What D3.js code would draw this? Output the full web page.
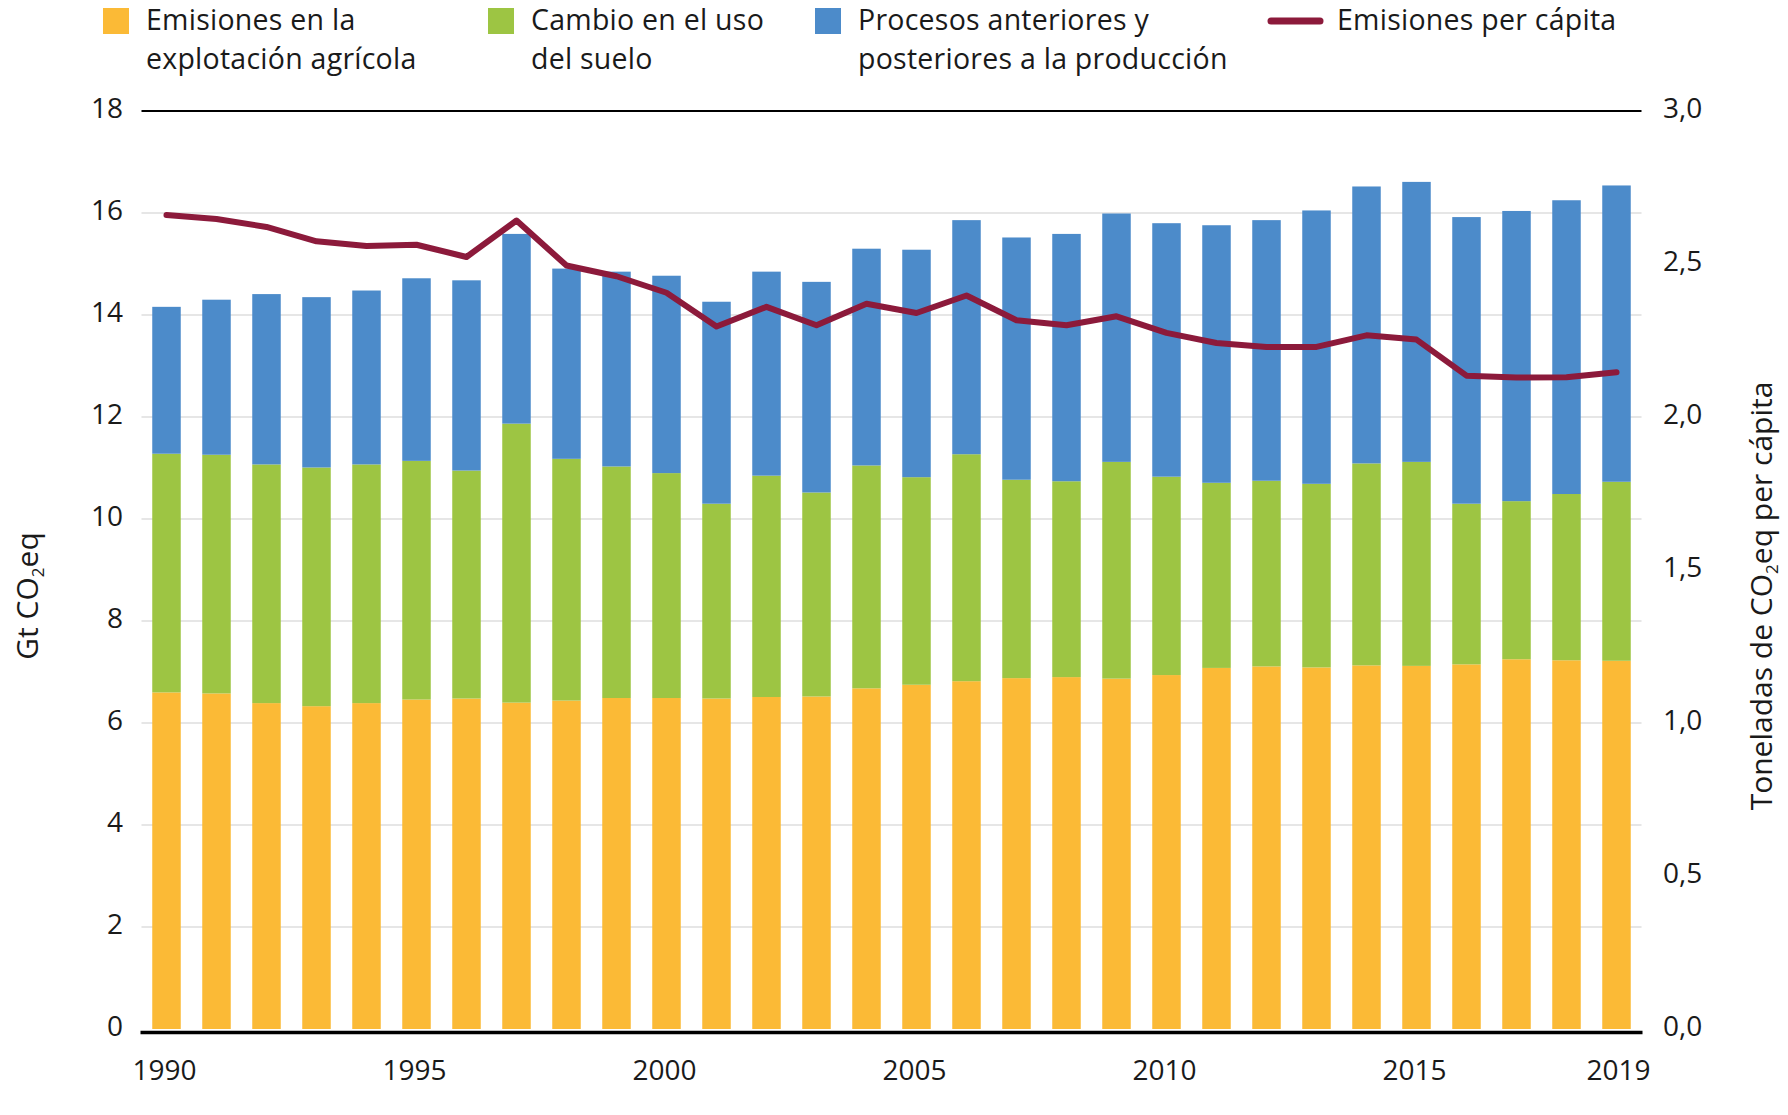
<!DOCTYPE html>
<html><head><meta charset="utf-8">
<script src="https://cdn.jsdelivr.net/npm/d3@7"></script>
<style>
html,body{margin:0;padding:0;background:#fff;}
svg{display:block;}
text{font-family:"Open Sans",sans-serif;fill:#1a1a1a;}
</style></head>
<body>
<svg id="c" width="1788" height="1115"></svg>
<script>
const years = [1990,1991,1992,1993,1994,1995,1996,1997,1998,1999,2000,2001,2002,2003,2004,2005,2006,2007,2008,2009,2010,2011,2012,2013,2014,2015,2016,2017,2018,2019];
const farmGate = [6.60,6.58,6.39,6.33,6.39,6.46,6.48,6.40,6.44,6.49,6.49,6.48,6.51,6.52,6.68,6.75,6.82,6.88,6.90,6.87,6.94,7.08,7.11,7.09,7.13,7.12,7.15,7.25,7.23,7.22];
const landUse = [4.68,4.68,4.68,4.68,4.68,4.68,4.47,5.47,4.74,4.54,4.41,3.82,4.34,4.00,4.37,4.07,4.45,3.89,3.84,4.25,3.89,3.63,3.64,3.60,3.96,4.00,3.15,3.10,3.26,3.51];
const supplyChain = [2.88,3.04,3.34,3.34,3.41,3.58,3.73,3.72,3.73,3.82,3.87,3.96,4.00,4.13,4.25,4.46,4.59,4.75,4.85,4.87,4.97,5.05,5.11,5.36,5.43,5.49,5.62,5.69,5.76,5.81];
const perCapita = [2.66,2.647,2.621,2.574,2.559,2.563,2.523,2.642,2.495,2.46,2.406,2.296,2.36,2.30,2.37,2.34,2.397,2.316,2.30,2.329,2.275,2.242,2.229,2.229,2.267,2.253,2.135,2.129,2.13,2.146];
const leftTicks = [0,2,4,6,8,10,12,14,16,18];
const rightTicks = [0,0.5,1.0,1.5,2.0,2.5,3.0];
const xTickYears = [1990,1995,2000,2005,2010,2015,2019];
const seriesNames = [["Emisiones en la","explotación agrícola"],["Cambio en el uso","del suelo"],["Procesos anteriores y","posteriores a la producción"]];
const lineName = "Emisiones per cápita";
const colors = ["#FBBA36","#9DC543","#4C8BCA"];
const lineColor = "#8C1A3B";

const svg = d3.select("#c");
const L = 141.5, R = 1641.5, T = 111, B = 1029;

const x = d3.scaleBand().domain(years).range([L,R]).paddingInner(0.43).paddingOuter(0.215);
const y = d3.scaleLinear().domain([0,18]).range([B,T]);
const y2 = d3.scaleLinear().domain([0,3]).range([B,T]);

// gridlines
svg.append("g").selectAll("line").data(leftTicks.filter(d=>d>0 && d<18)).join("line")
  .attr("x1",L).attr("x2",R).attr("y1",d=>y(d)).attr("y2",d=>y(d))
  .attr("stroke","#e6e6e6").attr("stroke-width",2);

// stacked bars
const rows = years.map((yr,i)=>({year:yr,a:farmGate[i],b:landUse[i],c:supplyChain[i]}));
const stack = d3.stack().keys(["a","b","c"])(rows);
svg.append("g").selectAll("g").data(stack).join("g").attr("fill",(d,i)=>colors[i])
  .selectAll("rect").data(d=>d).join("rect")
  .attr("x",d=>x(d.data.year)).attr("width",x.bandwidth())
  .attr("y",d=>y(d[1])).attr("height",d=>y(d[0])-y(d[1]));

// top line at 18
svg.append("line").attr("x1",L).attr("x2",R).attr("y1",y(18)).attr("y2",y(18))
  .attr("stroke","#000").attr("stroke-width",2);
// bottom axis
svg.append("line").attr("x1",L-1).attr("x2",R+1).attr("y1",B+3.5).attr("y2",B+3.5)
  .attr("stroke","#000").attr("stroke-width",3.5);

// per capita line
const line = d3.line().x((d,i)=>x(years[i])+x.bandwidth()/2).y(d=>y2(d));
svg.append("path").datum(perCapita).attr("d",line).attr("fill","none")
  .attr("stroke",lineColor).attr("stroke-width",6).attr("stroke-linejoin","round").attr("stroke-linecap","round");

// left ticks
const fs = 28;
svg.append("g").selectAll("text").data(leftTicks).join("text")
  .attr("x",123).attr("y",d=>y(d)-3).attr("dy","0.36em").attr("text-anchor","end")
  .style("font-size",fs+"px").text(d=>d);
// right ticks
svg.append("g").selectAll("text").data(rightTicks).join("text")
  .attr("x",1663).attr("y",d=>y2(d)-3).attr("dy","0.36em").attr("text-anchor","start")
  .style("font-size",fs+"px").text(d=>d.toFixed(1).replace(".",","));
// x ticks
svg.append("g").selectAll("text").data(xTickYears).join("text")
  .attr("x",d=>x(d)+x.bandwidth()/2+(d===2019?2:-2)).attr("y",1080).attr("text-anchor","middle")
  .style("font-size",fs+"px").text(d=>d);

// axis titles
const lt = svg.append("text").attr("transform","translate(38,596) rotate(-90)")
  .attr("text-anchor","middle").style("font-size","30px");
lt.append("tspan").text("Gt CO");
lt.append("tspan").attr("dy",6).style("font-size","17px").text("2");
lt.append("tspan").attr("dy",-6).text("eq");

const rt = svg.append("text").attr("transform","translate(1772,596) rotate(-90)")
  .attr("text-anchor","middle").style("font-size","30px");
rt.append("tspan").text("Toneladas de CO");
rt.append("tspan").attr("dy",6).style("font-size","17px").text("2");
rt.append("tspan").attr("dy",-6).text("eq per cápita");

// legend
const legX = [103, 488, 815];
const legFs = 28.5;
seriesNames.forEach((nm,i)=>{
  const g = svg.append("g");
  g.append("rect").attr("x",legX[i]).attr("y",8).attr("width",26).attr("height",26).attr("fill",colors[i]);
  nm.forEach((ln,j)=>{
    g.append("text").attr("x",legX[i]+43).attr("y",30+j*39).style("font-size",legFs+"px").style("letter-spacing","0.25px").text(ln);
  });
});
svg.append("line").attr("x1",1271).attr("x2",1320).attr("y1",21).attr("y2",21)
  .attr("stroke",lineColor).attr("stroke-width",7).attr("stroke-linecap","round");
svg.append("text").attr("x",1337).attr("y",30).style("font-size",legFs+"px").style("letter-spacing","0.25px").text(lineName);
</script>
</body></html>
